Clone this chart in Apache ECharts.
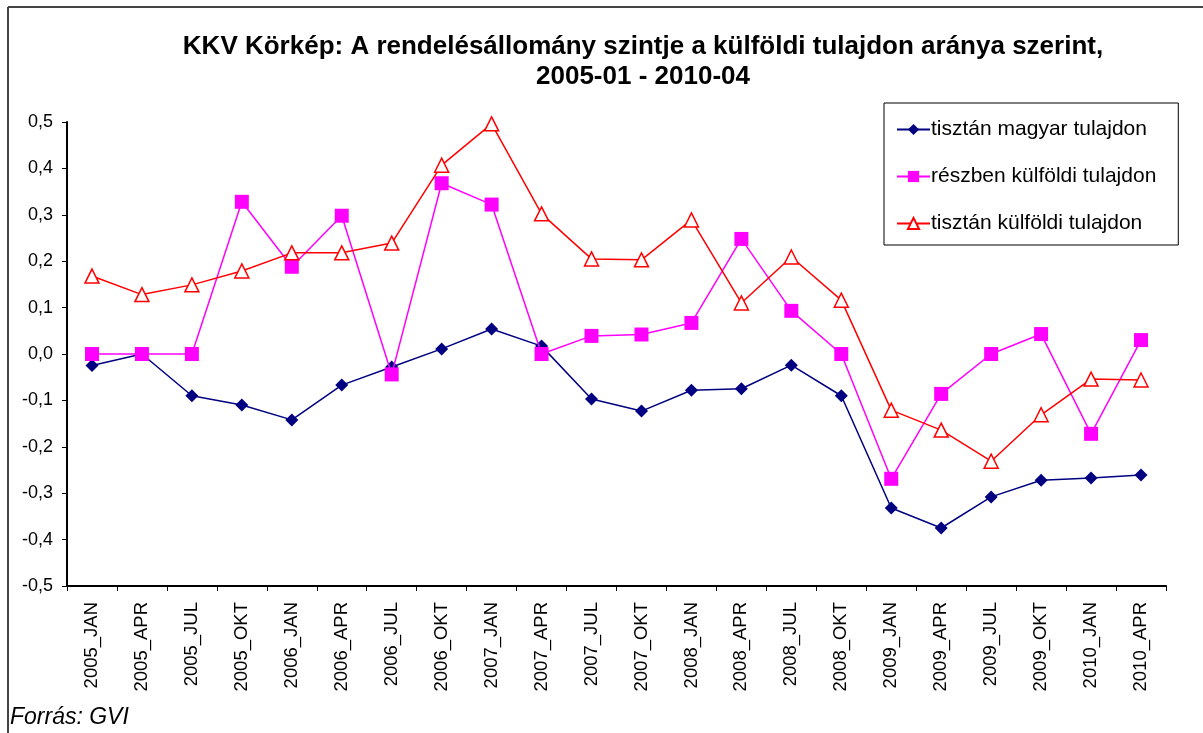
<!DOCTYPE html>
<html lang="hu">
<head>
<meta charset="UTF-8">
<script src="https://cdn.jsdelivr.net/npm/echarts@6/dist/echarts.min.js"></script>
<style>
  html, body { margin: 0; padding: 0; background: #fff; }
  #chart { width: 1203px; height: 733px; }
</style>
</head>
<body>
<div id="chart"></div>
<script>
// negyedéves időszakok
var periods = ['2005_JAN','2005_APR','2005_JUL','2005_OKT','2006_JAN','2006_APR','2006_JUL','2006_OKT',
  '2007_JAN','2007_APR','2007_JUL','2007_OKT','2008_JAN','2008_APR','2008_JUL','2008_OKT',
  '2009_JAN','2009_APR','2009_JUL','2009_OKT','2010_JAN','2010_APR'];

var magyar = [-0.025, 0, -0.09, -0.11, -0.142, -0.067, -0.028, 0.011, 0.054, 0.017, -0.097, -0.123,
  -0.078, -0.075, -0.024, -0.09, -0.332, -0.375, -0.308, -0.272, -0.267, -0.261];
var reszben = [0, 0, 0, 0.328, 0.188, 0.298, -0.044, 0.368, 0.322, 0, 0.039, 0.042,
  0.067, 0.248, 0.093, 0, -0.269, -0.086, 0, 0.043, -0.172, 0.03];
var kulfoldi = [0.168, 0.128, 0.149, 0.179, 0.218, 0.218, 0.239, 0.407, 0.496, 0.302, 0.205, 0.203,
  0.289, 0.11, 0.209, 0.116, -0.121, -0.164, -0.231, -0.131, -0.054, -0.056];

var seriesNames = ['tisztán magyar tulajdon', 'részben külföldi tulajdon', 'tisztán külföldi tulajdon'];

var chart = echarts.init(document.getElementById('chart'));
var font = 'Liberation Sans, Arial, sans-serif';

var option = {
  backgroundColor: '#fff',
  animation: false,
  title: {
    text: 'KKV Körkép: A rendelésállomány szintje a külföldi tulajdon aránya szerint,\n2005-01 - 2010-04',
    left: 638, top: 27, textAlign: 'center',
    textStyle: { fontFamily: font, fontSize: 26, fontWeight: 'bold', color: '#000', lineHeight: 30 }
  },
  legend: {
    orient: 'vertical',
    left: 884, top: 103,
    padding: [16, 22, 11, 12],
    itemGap: 26,
    itemWidth: 33, itemHeight: 14,
    borderColor: '#000', borderWidth: 1,
    backgroundColor: '#fff',
    textStyle: { fontFamily: font, fontSize: 21, color: '#000', padding: [0, 0, 0, -4] },
    data: seriesNames
  },
  grid: { left: 67, right: 37, top: 122, bottom: 147 },
  xAxis: {
    type: 'category',
    data: periods,
    boundaryGap: true,
    axisLine: { onZero: false, lineStyle: { color: '#000', width: 2 } },
    axisTick: { show: true, alignWithLabel: false, length: 5, lineStyle: { color: '#000' } },
    axisLabel: { rotate: 90, interval: 0, margin: 16, fontFamily: font, fontSize: 18.5, color: '#000' },
    splitLine: { show: false }
  },
  yAxis: {
    type: 'value',
    min: -0.5, max: 0.5, interval: 0.1,
    axisLine: { show: true, lineStyle: { color: '#000', width: 2 } },
    axisTick: { show: true, length: 5, lineStyle: { color: '#000' } },
    axisLabel: {
      margin: 14, fontFamily: font, fontSize: 18, color: '#000',
      formatter: function (v) { return v.toFixed(1).replace('.', ','); }
    },
    splitLine: { show: false }
  },
  graphic: [
    { type: 'line', shape: { x1: 8, y1: 7, x2: 1203, y2: 7 }, style: { stroke: '#444', lineWidth: 2 } },
    { type: 'line', shape: { x1: 8, y1: 7, x2: 8, y2: 733 }, style: { stroke: '#444', lineWidth: 2 } },
    { type: 'text', left: 10, top: 706,
      style: { text: 'Forrás: GVI', font: 'italic 23px ' + font, fill: '#000' } }
  ],
  series: [
    {
      name: seriesNames[0], type: 'line', data: magyar,
      symbol: 'diamond', symbolSize: 13,
      lineStyle: { color: '#000080', width: 1.5 },
      itemStyle: { color: '#000080' }, z: 3
    },
    {
      name: seriesNames[1], type: 'line', data: reszben,
      symbol: 'rect', symbolSize: 14,
      lineStyle: { color: '#ff00ff', width: 1.5 },
      itemStyle: { color: '#ff00ff' }, z: 4
    },
    {
      name: seriesNames[2], type: 'line', data: kulfoldi,
      symbol: 'triangle', symbolSize: 14,
      lineStyle: { color: '#ff0000', width: 1.5 },
      itemStyle: { color: '#fff', borderColor: '#ff0000', borderWidth: 1.5 }, z: 5
    }
  ]
};

chart.setOption(option);
</script>
</body>
</html>
